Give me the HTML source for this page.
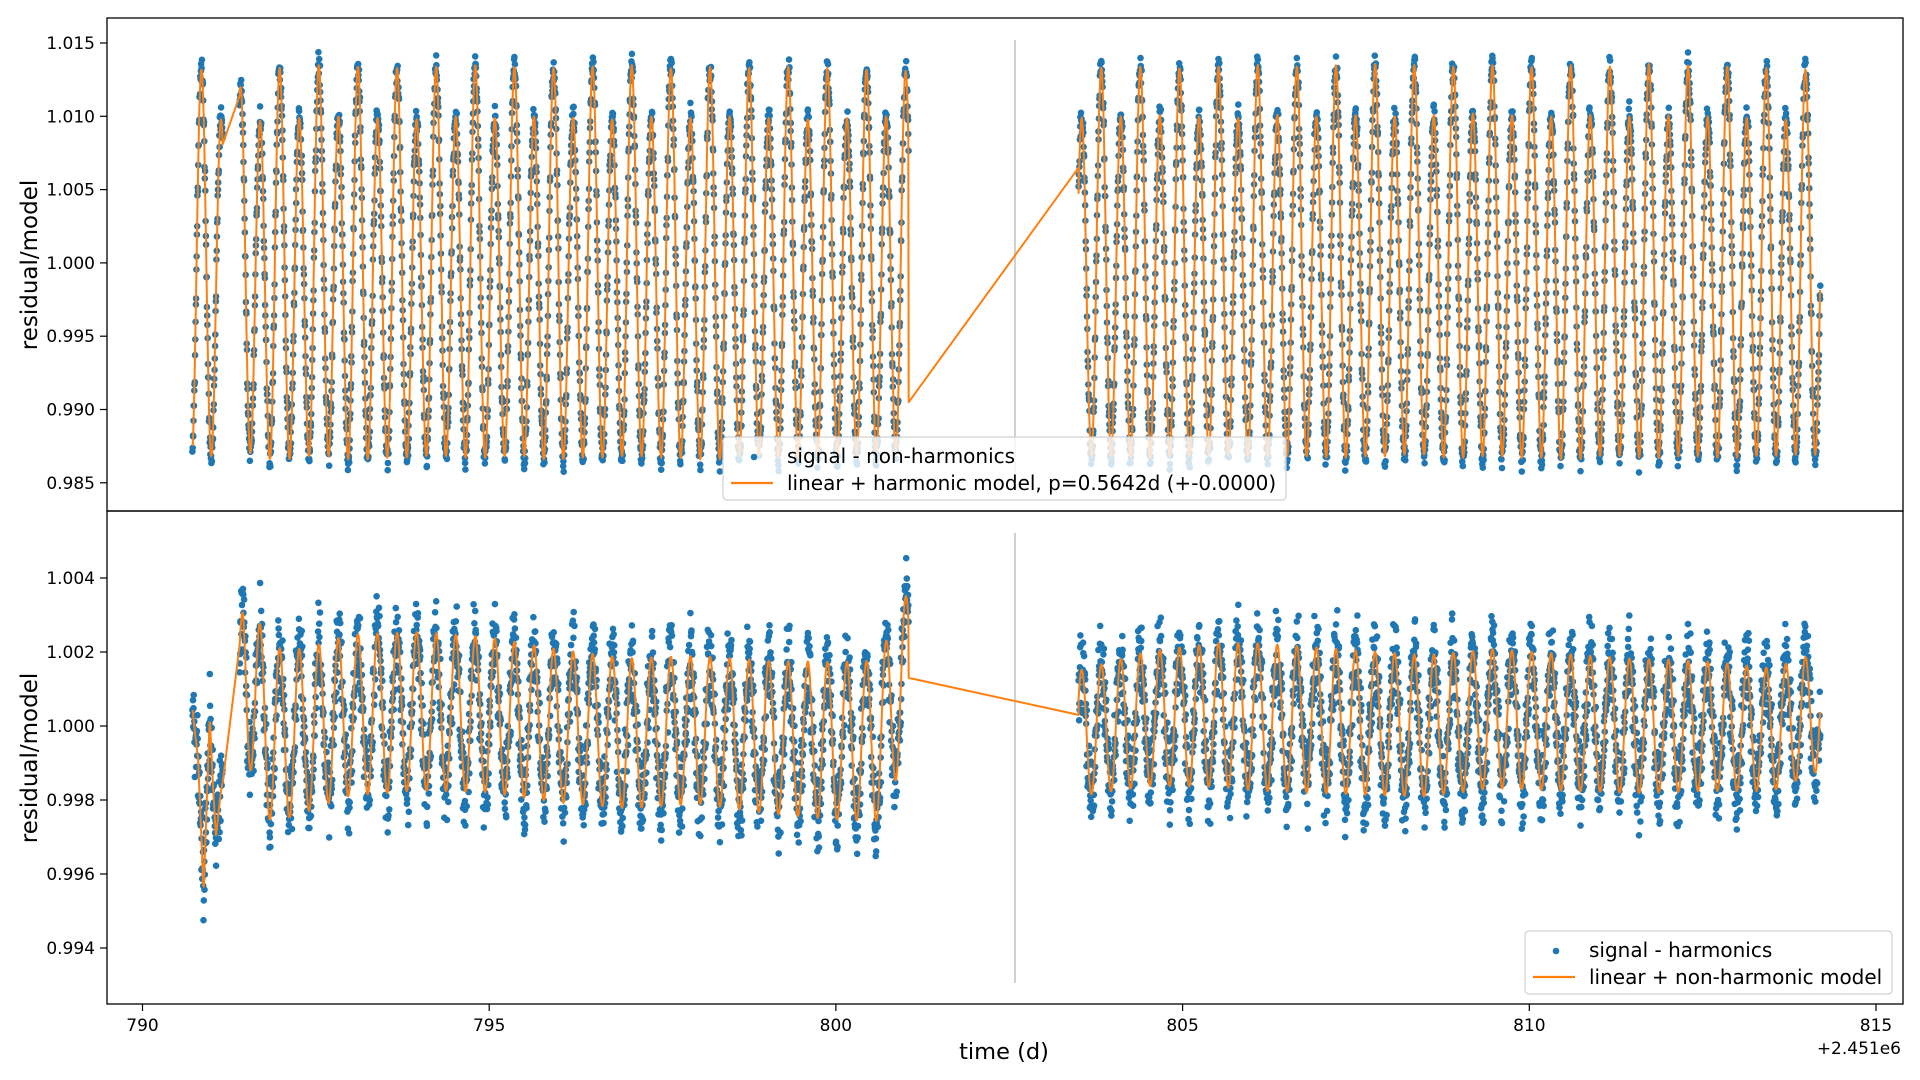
<!DOCTYPE html>
<html><head><meta charset="utf-8"><style>
html,body{margin:0;padding:0;background:#fff;}
svg{display:block;font-family:"DejaVu Sans","Liberation Sans",sans-serif;}
</style></head><body>
<svg id="chart" width="1920" height="1080" viewBox="0 0 1920 1080" xmlns="http://www.w3.org/2000/svg">
<rect x="0" y="0" width="1920" height="1080" fill="#fff"/>
<defs>
<clipPath id="clipTop"><rect x="107" y="18" width="1796" height="493"/></clipPath>
<clipPath id="clipBot"><rect x="107" y="511" width="1796" height="493"/></clipPath>
</defs>
<g id="topPanel"></g>
<g id="botPanel"></g>
<g id="axes"></g>
</svg>
<script>
// ---- data ----
const period = 0.5642;
const xTicks = [790, 795, 800, 805, 810, 815];
const topYTicks = [0.985, 0.990, 0.995, 1.000, 1.005, 1.010, 1.015];
const botYTicks = [0.994, 0.996, 0.998, 1.000, 1.002, 1.004];
const segments = [[790.72, 801.05], [803.50, 814.20]];
const firstTallPeak = 790.85;
const topTall = [1.0132,1.0120,1.0133,1.0135,1.0134,1.0133,1.0134,1.0135,1.0134,1.0133,1.0134,1.0135,1.0133,1.0134,1.0133,1.0134,1.0133,1.0132,1.0131,1.0130,1.0130,1.0130,1.0132,1.0133,1.0134,1.0133,1.0134,1.0135,1.0134,1.0135,1.0136,1.0135,1.0134,1.0135,1.0134,1.0135,1.0134,1.0136,1.0135,1.0134,1.0133,1.0132];
const topShort = [1.0098,1.0097,1.0099,1.0100,1.0099,1.0098,1.0100,1.0099,1.0100,1.0099,1.0098,1.0100,1.0099,1.0100,1.0099,1.0098,1.0099,1.0100,1.0099,1.0098,1.0098,1.0098,1.0099,1.0100,1.0101,1.0100,1.0099,1.0101,1.0100,1.0101,1.0100,1.0101,1.0102,1.0101,1.0100,1.0101,1.0100,1.0101,1.0100,1.0099,1.0098,1.0097];
const topTrough = [0.9868,0.9870,0.9866,0.9868,0.9866,0.9867,0.9868,0.9867,0.9868,0.9866,0.9867,0.9868,0.9867,0.9866,0.9868,0.9867,0.9868,0.9869,0.9870,0.9870,0.9870,0.9870,0.9872,0.9868,0.9867,0.9868,0.9869,0.9867,0.9868,0.9867,0.9868,0.9869,0.9867,0.9868,0.9867,0.9866,0.9868,0.9867,0.9868,0.9867,0.9868,0.9869];
const botKnotT = [790.72,790.80,790.88,790.97,791.06,791.30,791.45,791.80,792.20,793.00,794.00,795.00,796.00,797.00,798.00,799.00,800.00,800.60,801.05,803.50,804.50,805.50,806.50,807.50,808.50,809.50,810.50,811.50,812.50,813.50,814.20];
const botKnotV = [1.0008,0.9990,0.9952,1.0006,0.9970,0.9995,1.0018,0.9998,0.9998,1.0003,1.0004,1.0003,1.0000,0.9998,0.9999,0.9997,0.9996,0.9996,1.0015,0.9998,1.0002,1.0003,1.0002,1.0001,1.0000,1.0002,1.0001,1.0000,1.0000,0.9999,1.0004];
const botAmpT = [790.72,791.10,791.40,791.50,792.50,795.00,798.00,801.05,803.50,806.00,809.00,812.00,814.20];
const botAmpV = [0.0003,0.0004,0.0012,0.0024,0.0022,0.0021,0.0020,0.0022,0.0017,0.0020,0.0019,0.0018,0.0016];
const topGap = [[801.05, 0.9905], [803.50, 1.0065]];
const botGap = [[801.05, 1.0013], [803.50, 1.0003]];
const dataGaps = [[791.16, 791.40]];

// ---- scales ----
const X = t => 142.5 + (t - 790) * 69.34;
const YT = v => 43 + (1.015 - v) / 0.005 * 73.3;
const YB = v => 578 + (1.004 - v) / 0.002 * 74;
const NS = 'http://www.w3.org/2000/svg';
function mk(tag, attrs, parent) { const e = document.createElementNS(NS, tag); for (const k in attrs) e.setAttribute(k, attrs[k]); parent.appendChild(e); return e; }

function lerpArr(ts, vs, t) {
  if (t <= ts[0]) return vs[0];
  for (let i = 1; i < ts.length; i++) if (t <= ts[i]) { const f = (t - ts[i-1]) / (ts[i] - ts[i-1]); return vs[i-1] + f * (vs[i] - vs[i-1]); }
  return vs[vs.length - 1];
}
function topExtremes() {
  const ex = [];
  const q = period / 4;
  for (let k = 0; k < topTall.length; k++) {
    const t0 = firstTallPeak + k * period;
    ex.push([t0, topTall[k]], [t0 + q, topTrough[k]], [t0 + 2*q, topShort[k]], [t0 + 3*q, topTrough[Math.min(k+1, topTrough.length-1)]]);
  }
  ex.unshift([firstTallPeak - q, topTrough[0]]);
  return ex;
}
const TEX = topExtremes();
function topModel(t) {
  for (let i = 1; i < TEX.length; i++) if (t <= TEX[i][0]) {
    const a = TEX[i-1], b = TEX[i]; const f = (t - a[0]) / (b[0] - a[0]);
    const s = (1 - Math.cos(Math.PI * f)) / 2; return a[1] + s * (b[1] - a[1]);
  }
  return TEX[TEX.length-1][1];
}
function botModel(t) {
  const base = lerpArr(botKnotT, botKnotV, t);
  const amp = lerpArr(botAmpT, botAmpV, t);
  const ph = (t - firstTallPeak) / period * 2 * Math.PI * 2;
  return base + amp * Math.cos(ph);
}
function inGap(t) { return dataGaps.some(g => t > g[0] && t < g[1]); }
function jitter(i) { const s = Math.sin(i * 12.9898 + 78.233) * 43758.5453; return (s - Math.floor(s)) - 0.5; }

function drawPanel(g, model, Y, clip, gap, noiseAmp, pre) {
  g.setAttribute('clip-path', 'url(#' + clip + ')');
  const pts = mk('g', {}, g);
  
  
  let idx = 0; let line = [];
  segments.forEach((seg, si) => {
    for (let t = seg[0]; t <= seg[1]; t += 0.0038) {
      idx++;
      if (inGap(t)) continue;
      const m = model(t);
      if (idx % 2 === 0) line.push([t, m]);
      const v = m + jitter(idx) * noiseAmp + jitter(idx * 7 + 3) * noiseAmp * 0.6;
      const c = mk('circle', { cx: X(t).toFixed(1), cy: Y(v).toFixed(1), r: 3.3, fill: '#1f77b4' }, pts);
      
      
    }
    if (si === 0) { line.push(gap[0]); line.push(gap[1]); }
  });
  const d = line.map((p, i) => (i ? 'L' : 'M') + X(p[0]).toFixed(1) + ' ' + Y(p[1]).toFixed(1)).join('');
  const pl = mk('path', { d: d, fill: 'none', stroke: '#ff7f0e', 'stroke-width': 2, 'stroke-linejoin': 'round' }, g);
  
  
}
const topG = document.getElementById('topPanel');
const botG = document.getElementById('botPanel');
const vl1 = mk('line', { x1: 1015, x2: 1015, y1: 40, y2: 490, stroke: '#d0d0d0', 'stroke-width': 2 }, topG);
 
const vl2 = mk('line', { x1: 1015, x2: 1015, y1: 533, y2: 983, stroke: '#d0d0d0', 'stroke-width': 2 }, botG);
 
drawPanel(topG, topModel, YT, 'clipTop', topGap, 0.0014, 'top');
drawPanel(botG, botModel, YB, 'clipBot', botGap, 0.0016, 'bottom');

// ---- axes ----
const ax = document.getElementById('axes');
function txt(x, y, s, size, anchor, name, extra) {
  const e = mk('text', Object.assign({ x: x, y: y, 'font-size': size, 'text-anchor': anchor, fill: '#000' }, extra || {}), ax);
  e.textContent = s;
  
  
  return e;
}
[[18, 'top'], [511, 'bottom']].forEach(([y0, n]) => {
  const r = mk('rect', { x: 107, y: y0, width: 1796, height: 493, fill: 'none', stroke: '#000', 'stroke-width': 1.3 }, ax);
   
});
topYTicks.forEach(v => {
  const y = YT(v);
  mk('line', { x1: 100, x2: 107, y1: y, y2: y, stroke: '#000', 'stroke-width': 1.2 }, ax);
  txt(95, y + 6, v.toFixed(3), 17, 'end', 'top-y-tick-label');
});
botYTicks.forEach(v => {
  const y = YB(v);
  mk('line', { x1: 100, x2: 107, y1: y, y2: y, stroke: '#000', 'stroke-width': 1.2 }, ax);
  txt(95, y + 6, v.toFixed(3), 17, 'end', 'bottom-y-tick-label');
});
xTicks.forEach(t => {
  const x = X(t);
  mk('line', { x1: x, x2: x, y1: 1004, y2: 1011, stroke: '#000', 'stroke-width': 1.2 }, ax);
  txt(x, 1031, String(t), 17, 'middle', 'x-tick-label');
});
txt(1901, 1054, '+2.451e6', 17, 'end', 'x-offset-label');
txt(1004, 1059, 'time (d)', 22.5, 'middle', 'x-axis-title');
txt(0, 0, 'residual/model', 23, 'middle', 'top-y-axis-title', { transform: 'translate(37,265) rotate(-90)' });
txt(0, 0, 'residual/model', 23, 'middle', 'bottom-y-axis-title', { transform: 'translate(37,758) rotate(-90)' });

function legend(x, y, w, h, entries, name) {
  const g = mk('g', {}, ax);
   
  mk('rect', { x: x, y: y, width: w, height: h, rx: 4, fill: '#fff', 'fill-opacity': 0.8, stroke: '#d0d0d0', 'stroke-width': 1.2 }, g);
  const d = mk('circle', { cx: x + 31, cy: y + 20, r: 3.3, fill: '#1f77b4' }, g);
   
  const l = mk('line', { x1: x + 8, x2: x + 50, y1: y + 46, y2: y + 46, stroke: '#ff7f0e', 'stroke-width': 2.2 }, g);
   
  const t1 = mk('text', { x: x + 64, y: y + 26, 'font-size': 20, fill: '#000' }, g); t1.textContent = entries[0];
   
  const t2 = mk('text', { x: x + 64, y: y + 53, 'font-size': 20, fill: '#000' }, g); t2.textContent = entries[1];
   
}
legend(723, 437, 563, 63, ['signal - non-harmonics', 'linear + harmonic model, p=0.5642d (+-0.0000)'], 'top-legend');
legend(1525, 931, 367, 63, ['signal - harmonics', 'linear + non-harmonic model'], 'bottom-legend');
</script>
</body></html>
